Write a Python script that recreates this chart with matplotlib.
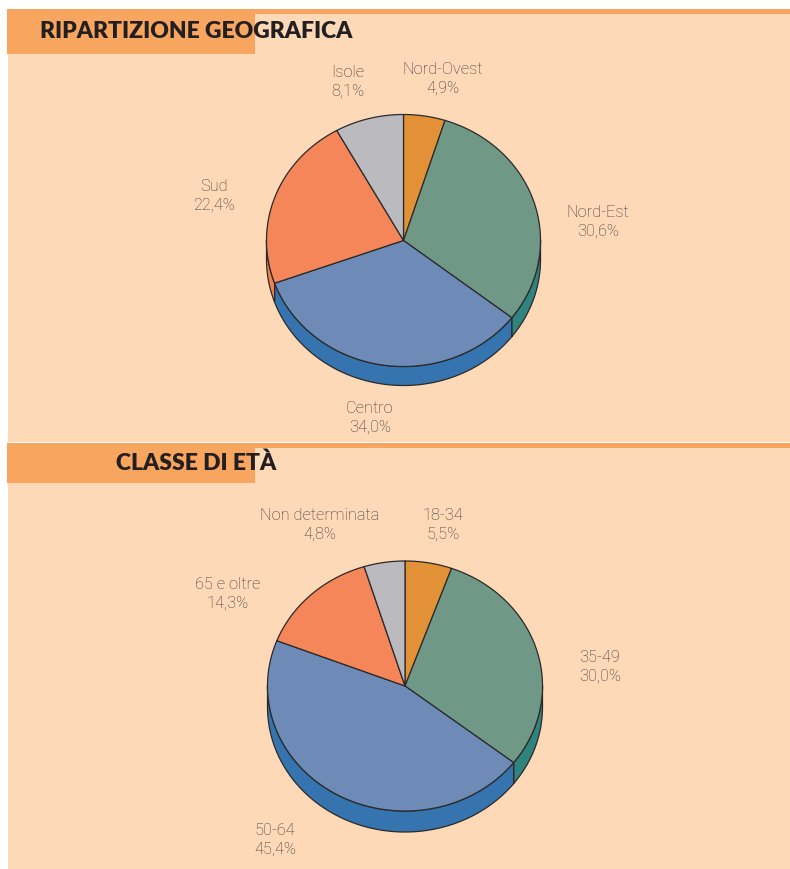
import numpy as np
import matplotlib
matplotlib.use("Agg")
import matplotlib.pyplot as plt
from matplotlib.patches import Polygon, Rectangle

# ---------------- data ----------------
geo_labels = ["Nord-Ovest", "Nord-Est", "Centro", "Sud", "Isole"]
geo_values = [4.9, 30.6, 34.0, 22.4, 8.1]
geo_texts = ["4,9%", "30,6%", "34,0%", "22,4%", "8,1%"]

age_labels = ["18-34", "35-49", "50-64", "65 e oltre", "Non determinata"]
age_values = [5.5, 30.0, 45.4, 14.3, 4.8]
age_texts = ["5,5%", "30,0%", "45,4%", "14,3%", "4,8%"]

title_geo = "RIPARTIZIONE GEOGRAFICA"
title_age = "CLASSE DI ETÀ"

# ---------------- style ----------------
top_colors = ["#E39137", "#709887", "#6E8BB8", "#F5865A", "#BBBBBF"]
side_colors = ["#C97A28", "#30837E", "#3574AE", "#F08050", "#9FA0A4"]
peach = "#FDD9B8"
orange = "#F8A65F"
label_color = "#3F3A3A"

W, H = 790, 869
fig = plt.figure(figsize=(W / 100, H / 100), dpi=100)
fig.patch.set_facecolor("white")
ax = fig.add_axes([0, 0, 1, 1])
ax.set_xlim(0, W)
ax.set_ylim(H, 0)
ax.axis("off")

# backgrounds
ax.add_patch(Rectangle((8, 14), W - 8, 428, facecolor=peach, edgecolor="none"))
ax.add_patch(Rectangle((8, 448), W - 8, H - 448, facecolor=peach, edgecolor="none"))
for y0, hdr_h in [(9, 45), (443, 40)]:
    ax.add_patch(Rectangle((7, y0), W - 7, 5, facecolor=orange, edgecolor="none"))
    ax.add_patch(Rectangle((7, y0), 248, hdr_h, facecolor=orange, edgecolor="none"))

hfont = dict(family=["Lato", "DejaVu Sans"], fontweight="heavy", color="#231F20",
             fontsize=16.5)
ax.text(196, 32, title_geo, ha="center", va="center", **hfont)
ax.text(196, 463, title_age, ha="center", va="center", **hfont)


def pie3d(cx, cy, rx, ry, depth, values):
    fr = np.cumsum([0] + list(values)) / sum(values)
    # start at top, clockwise -> math angle = 90 - 360*f
    angs = 90 - 360 * fr
    n = 200
    # sides (front half only: math angles in (-180, 0))
    for i in range(len(values)):
        a0, a1 = angs[i], angs[i + 1]
        for shift in (0, -360, 360):
            l = max(min(a0, a1), -180 + shift)
            h_ = min(max(a0, a1), 0 + shift)
            if h_ <= l:
                continue
            s = np.linspace(l, h_, n)
            xs = cx + rx * np.cos(np.radians(s))
            ys = cy - ry * np.sin(np.radians(s))
            px = np.concatenate([xs, xs[::-1]])
            py = np.concatenate([ys, ys[::-1] + depth])
            ax.add_patch(Polygon(np.column_stack([px, py]), closed=True,
                                 facecolor=side_colors[i], edgecolor="#2A2A2A",
                                 linewidth=0.9, joinstyle="round"))
    # tops
    for i in range(len(values)):
        s = np.linspace(angs[i], angs[i + 1], n)
        xs = np.concatenate([[cx], cx + rx * np.cos(np.radians(s))])
        ys = np.concatenate([[cy], cy - ry * np.sin(np.radians(s))])
        ax.add_patch(Polygon(np.column_stack([xs, ys]), closed=True,
                             facecolor=top_colors[i], edgecolor="#2A2A2A",
                             linewidth=0.9, joinstyle="round"))


pie3d(403.5, 240.5, 137, 126, 19, geo_values)
pie3d(405, 686, 137.5, 125, 21, age_values)

lfont = dict(family=["Roboto", "DejaVu Sans"], fontweight="light", color=label_color,
             fontsize=11.8, ha="center", va="center", linespacing=1.3)

geo_pos = [(443, 79), (598, 222), (370, 418), (214, 196), (348, 82)]
age_pos = [(443, 525), (600, 667), (275, 840), (228, 594), (320, 525)]
for lab, txt, (x, y) in zip(geo_labels, geo_texts, geo_pos):
    ax.text(x, y, f"{lab}\n{txt}", **lfont)
for lab, txt, (x, y) in zip(age_labels, age_texts, age_pos):
    ax.text(x, y, f"{lab}\n{txt}", **lfont)

fig.savefig("out.png", dpi=100, facecolor="white")
